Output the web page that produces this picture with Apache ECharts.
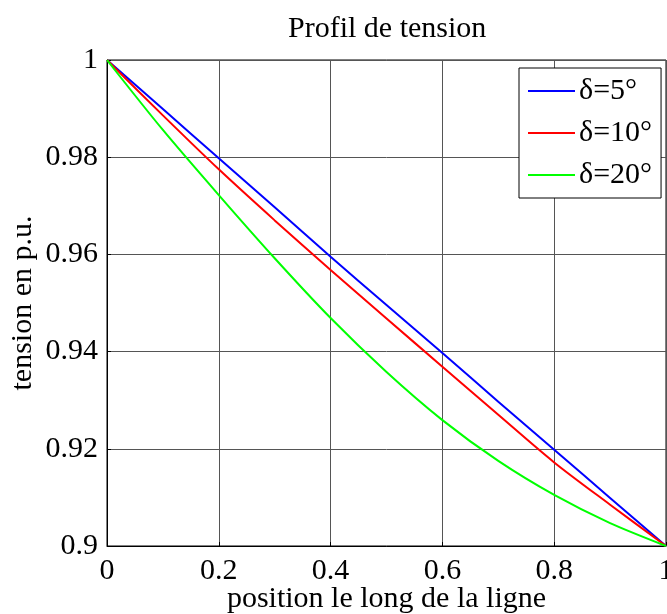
<!DOCTYPE html>
<html>
<head>
<meta charset="utf-8">
<script src="https://cdn.jsdelivr.net/npm/echarts@6/dist/echarts.min.js"></script>
<style>
  html, body { margin: 0; padding: 0; background: #fff; }
  #chart { width: 667px; height: 614px; }
</style>
</head>
<body>
<div id="chart"></div>
<script>
// position along the line (p.u.)
const positions = [0, 0.1, 0.2, 0.3, 0.4, 0.5, 0.6, 0.7, 0.8, 0.9, 1]
// voltage profile for each load angle
const delta5 = [1, 0.9899, 0.9798, 0.9697, 0.9595, 0.9496, 0.9397, 0.9297, 0.9198, 0.9099, 0.9]
const delta10 = [1, 0.9886, 0.9775, 0.9670, 0.9568, 0.9468, 0.9369, 0.9270, 0.9172, 0.9085, 0.9]
const delta20 = [1, 0.9856, 0.9722, 0.9592, 0.9469, 0.9358, 0.9259, 0.9175, 0.9105, 0.9047, 0.9]
const seriesNames = ['δ=5°', 'δ=10°', 'δ=20°']
const seriesColors = ['#0000ff', '#ff0000', '#00ff00']

const font = 'Liberation Serif'
const chart = echarts.init(document.getElementById('chart'))

const toPairs = vals => positions.map((x, i) => [x, vals[i]])

chart.setOption({
  animation: false,
  title: {
    text: 'Profil de tension',
    left: 283,
    top: 9,
    textStyle: { fontFamily: font, fontSize: 30, fontWeight: 'normal', color: '#000' }
  },
  grid: {
    left: 107,
    right: 1,
    top: 60,
    bottom: 68,
    containLabel: false,
    outerBoundsMode: 'none',
    show: true,
    borderColor: '#000',
    borderWidth: 1
  },
  legend: {
    orient: 'vertical',
    left: 519,
    top: 68,
    data: seriesNames,
    icon: 'rect',
    itemWidth: 47,
    itemHeight: 2,
    itemGap: 12,
    padding: [8, 9, 8, 9],
    borderColor: '#000',
    borderWidth: 1,
    backgroundColor: '#fff',
    textStyle: { fontFamily: font, fontSize: 30, color: '#000', padding: [0, 0, 0, -1] }
  },
  xAxis: {
    type: 'value',
    min: 0,
    max: 1,
    interval: 0.2,
    name: 'position le long de la ligne',
    nameLocation: 'middle',
    nameGap: 38,
    nameMoveOverlap: false,
    nameTextStyle: { fontFamily: font, fontSize: 30, color: '#000' },
    axisLine: { lineStyle: { color: '#000' } },
    axisTick: { inside: true, length: 4, lineStyle: { color: '#000' } },
    axisLabel: { fontFamily: font, fontSize: 30, color: '#000', margin: 10 },
    splitLine: { show: true, lineStyle: { color: '#555', width: 1 } }
  },
  yAxis: {
    type: 'value',
    min: 0.9,
    max: 1,
    interval: 0.02,
    name: 'tension en p.u.',
    nameLocation: 'middle',
    nameGap: 69,
    nameMoveOverlap: false,
    nameRotate: 90,
    nameTextStyle: { fontFamily: font, fontSize: 30, color: '#000' },
    axisLine: { show: true, lineStyle: { color: '#000' } },
    axisTick: { show: true, inside: true, length: 4, lineStyle: { color: '#000' } },
    axisLabel: { fontFamily: font, fontSize: 30, color: '#000', margin: 9 },
    splitLine: { show: true, lineStyle: { color: '#555', width: 1 } }
  },
  series: [delta5, delta10, delta20].map((vals, i) => ({
    name: seriesNames[i],
    type: 'line',
    data: toPairs(vals),
    symbol: 'none',
    smooth: 0.3,
    lineStyle: { color: seriesColors[i], width: 2 },
    itemStyle: { color: seriesColors[i] }
  }))
})
</script>
</body>
</html>
